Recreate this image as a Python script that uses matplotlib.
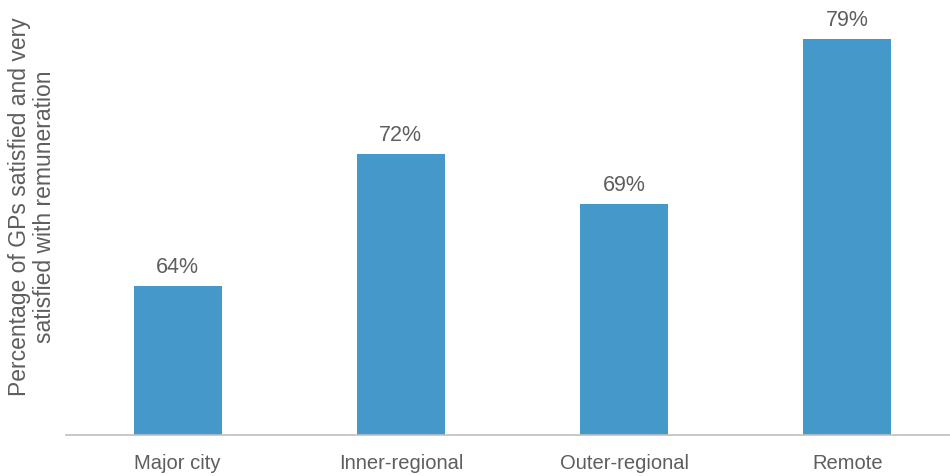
import matplotlib.pyplot as plt

categories = ['Major city', 'Inner-regional', 'Outer-regional', 'Remote']
values = [64, 72, 69, 79]
labels = ['64%', '72%', '69%', '79%']

plt.rcParams['font.family'] = ['Liberation Sans', 'DejaVu Sans']
text_color = '#5E5E5E'
bar_color = '#4598CA'

fig = plt.figure(figsize=(9.5, 4.77), dpi=100)
ax = fig.add_axes([66 / 950, 1 - 436 / 477, 1 - 66 / 950, 436 / 477])

x = range(len(categories))
bars = ax.bar(x, values, width=0.395, color=bar_color, zorder=2)

# value labels above bars
for b, lab in zip(bars, labels):
    ax.annotate(lab, (b.get_x() + b.get_width() / 2, b.get_height()),
                xytext=(0, 6.5), textcoords='offset points',
                ha='center', va='bottom', fontsize=15.5, color=text_color)

ax.set_xlim(-0.5, 3.46)
ax.set_ylim(55, 81.4)
ax.set_xticks(list(x))
ax.set_xticklabels(categories, fontsize=14.5, color=text_color)
ax.tick_params(axis='x', length=0, pad=13)
ax.set_yticks([])

for s in ['top', 'right', 'left']:
    ax.spines[s].set_visible(False)
ax.spines['bottom'].set_color('#BFBFBF')
ax.spines['bottom'].set_linewidth(1.2)

fig.text(32 / 950, 1 - 207 / 477,
         'Percentage of GPs satisfied and very\nsatisfied with remuneration',
         rotation=90, ha='center', va='center', multialignment='center',
         fontsize=16.5, color=text_color, linespacing=1.1)

fig.savefig('out.png', dpi=100)
